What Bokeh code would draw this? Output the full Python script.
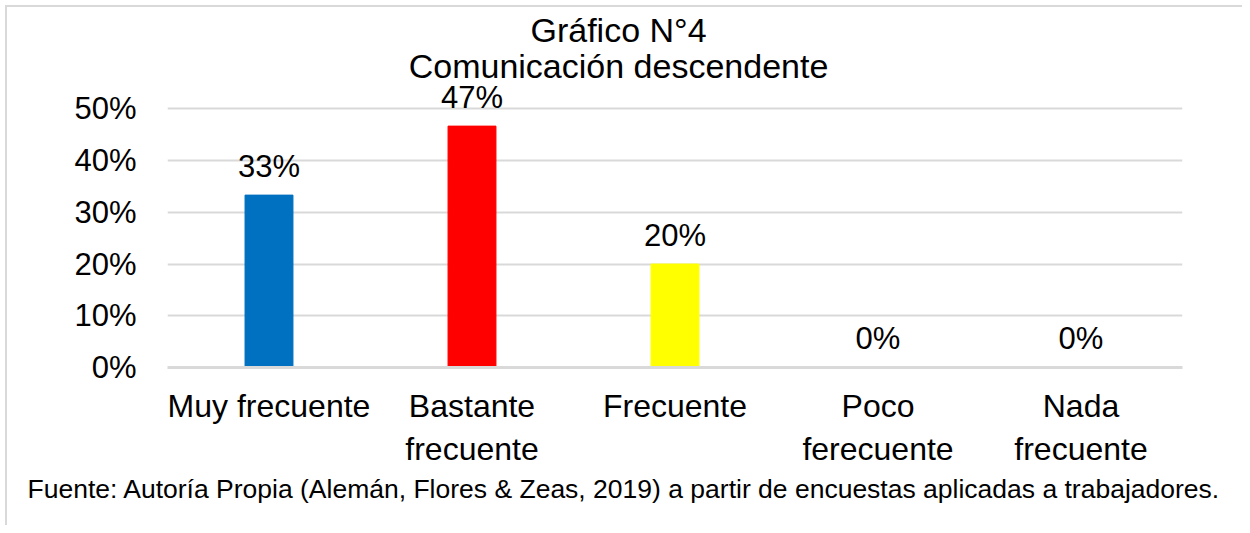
from bokeh.plotting import figure
from bokeh.models import (ColumnDataSource, FactorRange, Range1d, FixedTicker,
                          NumeralTickFormatter, Label, Title)
from bokeh.core.properties import value
from bokeh.embed import file_html
from bokeh.resources import INLINE

# ---- data ----
categories = ["Muy frecuente", "Bastante\nfrecuente", "Frecuente",
              "Poco\nferecuente", "Nada\nfrecuente"]
shares = [0.3333, 0.4667, 0.20, 0.0, 0.0]
bar_colors = ["#0070C0", "#FF0000", "#FFFF00", "#00B050", "#7030A0"]
y_ticks = [0.0, 0.1, 0.2, 0.3, 0.4, 0.5]
title_lines = ["Gráfico N°4", "Comunicación descendente"]
footer = ("Fuente: Autoría Propia (Alemán, Flores & Zeas, 2019) a partir de "
          "encuestas aplicadas a trabajadores.")

FONT = "Liberation Sans"

# ---- layout geometry (canvas pixels) ----
ML, MR, MT, MB = 160, 60, 0, 158
FW, FH = 1015, 360
PX_PER_UNIT = 517.2          # pixels for 100 %
Y_TOP = FH / PX_PER_UNIT
N = len(categories)


def px_x(px):
    return (px - ML) / (FW / N)


def px_y(py):
    return (MT + FH - py) / PX_PER_UNIT


src = ColumnDataSource(dict(
    cat=categories,
    share=shares,
    color=bar_colors,
    label=[f"{round(v * 100)}%" for v in shares],
))

p = figure(x_range=FactorRange(factors=categories, range_padding=0),
           y_range=Range1d(0, Y_TOP),
           frame_width=FW, frame_height=FH,
           min_border_left=ML, min_border_right=MR,
           min_border_top=MT, min_border_bottom=MB,
           output_backend="svg", toolbar_location=None,
           background_fill_color="white", border_fill_color="white")
p.styles = {"border-top": "2px solid #d9d9d9", "border-left": "2px solid #d9d9d9",
            "margin-top": "5px", "margin-left": "5px"}
p.outline_line_color = None

p.vbar(x="cat", top="share", width=0.236, color="color", source=src)

p.text(x="cat", y="share", text="label", source=src,
       text_font=value(FONT), text_font_size="31px", text_color="black",
       text_align="center", text_baseline="alphabetic", y_offset=-29)

# axes
p.yaxis.ticker = FixedTicker(ticks=y_ticks)
p.yaxis.formatter = NumeralTickFormatter(format="0%")
p.yaxis.axis_line_color = None
p.yaxis.major_tick_line_color = None
p.yaxis.minor_tick_line_color = None
p.yaxis.major_label_text_font = FONT
p.yaxis.major_label_text_font_size = "31px"
p.yaxis.major_label_text_color = "black"
p.yaxis.major_label_standoff = 25

p.xaxis.axis_line_color = "#d9d9d9"
p.xaxis.axis_line_width = 3
p.xaxis.major_tick_line_color = None
p.xaxis.minor_tick_line_color = None
p.xaxis.major_label_text_font = FONT
p.xaxis.major_label_text_font_size = "32px"
p.xaxis.major_label_text_color = "black"
p.xaxis.major_label_standoff = 14
p.xaxis.major_label_orientation = "horizontal"

p.xgrid.grid_line_color = None
p.ygrid.grid_line_color = "#d9d9d9"
p.ygrid.grid_line_width = 2

# title lines (inside the frame, above the bars)
for txt, base in zip(title_lines, [22, 58]):
    p.add_layout(Label(x=px_x(611), y=px_y(base), text=txt,
                       text_font=FONT, text_font_size="34px",
                       text_color="black", text_align="center",
                       text_baseline="alphabetic"))

# footer below the category axis
p.add_layout(Title(text=footer, align="left", offset=-140, standoff=4,
                   text_font=FONT, text_font_size="26.5px",
                   text_font_style="normal", text_color="black"), "below")

open("out.html", "w").write(file_html(p, INLINE))
